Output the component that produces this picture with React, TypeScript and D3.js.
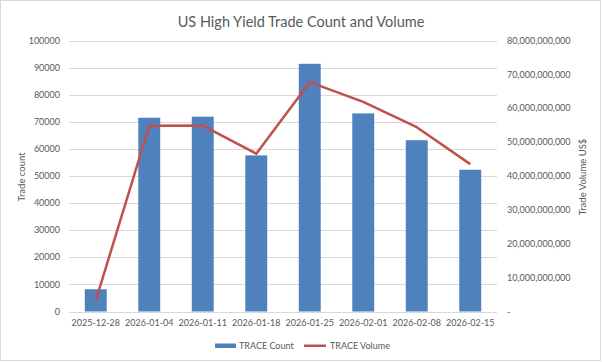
import React from "react";
import * as d3 from "d3";

const categories = ["2025-12-28","2026-01-04","2026-01-11","2026-01-18","2026-01-25","2026-02-01","2026-02-08","2026-02-15"];
const traceCount = [8200, 71500, 71900, 57600, 91400, 73100, 63200, 52300];
const traceVolume = [3.2e9, 54.8e9, 54.9e9, 46.6e9, 67.7e9, 61.9e9, 54.4e9, 43.5e9];
const leftTicks = [0,10000,20000,30000,40000,50000,60000,70000,80000,90000,100000];
const rightTicks = [0,10e9,20e9,30e9,40e9,50e9,60e9,70e9,80e9];

const W = 602, H = 362;
const FONT = "Lato, 'Open Sans', sans-serif";
const TXT = "#595959";

export default function App() {
  const x = d3.scaleBand<string>().domain(categories).range([69, 497]).paddingInner(0.59).paddingOuter(0.295);
  const yL = d3.scaleLinear().domain([0, 100000]).range([311.5, 40.5]);
  const yR = d3.scaleLinear().domain([0, 80e9]).range([311.5, 40.5]);
  const cx = (c: string) => (x(c) as number) + x.bandwidth() / 2;
  const line = d3.line<number>().x((_, i) => cx(categories[i])).y(v => yR(v));
  const fmtR = (v: number) => (v === 0 ? "-" : d3.format(",")(v));

  return (
    <svg width={W} height={H} style={{ position: "absolute", left: 0, top: 0, background: "#fff" }} fontFamily={FONT}>
      <rect x={0.5} y={0.5} width={600} height={360} fill="#fff" stroke="#D9D9D9" />
      <text x={301} y={27} textAnchor="middle" fontSize={14.5} fill={TXT}>US High Yield Trade Count and Volume</text>
      {leftTicks.map(t => (
        <g key={t}>
          <line x1={69} x2={497} y1={Math.round(yL(t)) + 0.5} y2={Math.round(yL(t)) + 0.5} stroke="#D9D9D9" strokeWidth={1} />
          <text x={60} y={yL(t)} dy="0.35em" textAnchor="end" fontSize={9} fill={TXT}>{t}</text>
        </g>
      ))}
      {rightTicks.map(t => (
        <text key={t} x={507} y={yR(t)} dy="0.35em" textAnchor="start" fontSize={9} fill={TXT}>{fmtR(t)}</text>
      ))}
      {categories.map((c, i) => (
        <rect key={c} x={x(c)} y={yL(traceCount[i])} width={x.bandwidth()} height={yL(0) - yL(traceCount[i])} fill="#4F81BD" />
      ))}
      <path d={line(traceVolume) || ""} fill="none" stroke="#C0504D" strokeWidth={2.5} strokeLinejoin="round" />
      {categories.map(c => (
        <text key={c} x={cx(c)} y={323} dy="0.35em" textAnchor="middle" fontSize={9} fill={TXT}>{c}</text>
      ))}
      <text transform={`translate(22,177) rotate(-90)`} textAnchor="middle" dy="0.35em" fontSize={9.5} fill={TXT}>Trade count</text>
      <text transform={`translate(583,177) rotate(-90)`} textAnchor="middle" dy="0.35em" fontSize={9.5} fill={TXT}>Trade Volume US$</text>
      <rect x={215} y={343.5} width={21} height={4.5} fill="#4F81BD" />
      <text x={239} y={346} dy="0.35em" fontSize={9} fill={TXT}>TRACE Count</text>
      <line x1={304} x2={326} y1={345.75} y2={345.75} stroke="#C0504D" strokeWidth={2.5} />
      <text x={330} y={346} dy="0.35em" fontSize={9} fill={TXT}>TRACE Volume</text>
    </svg>
  );
}
